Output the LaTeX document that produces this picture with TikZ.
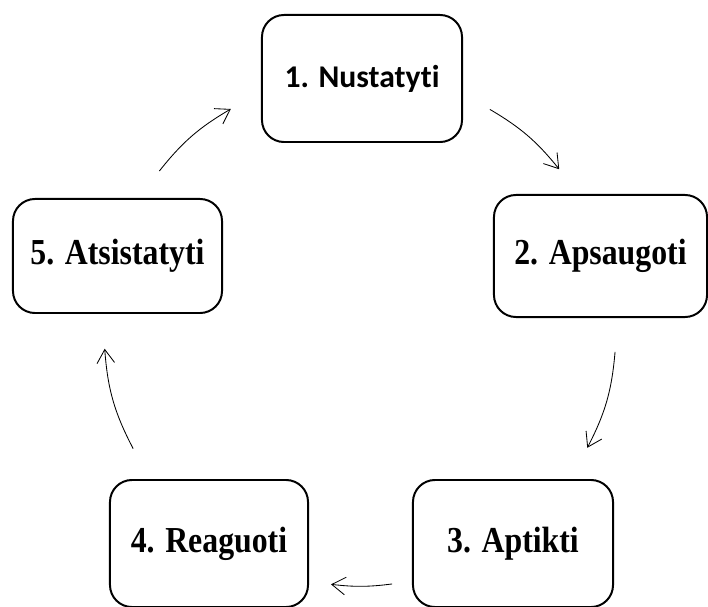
\documentclass[tikz,border=0pt]{standalone}
\usepackage{fontspec}
\setmainfont{Liberation Serif}[FakeStretch=0.87]
\newfontfamily\calfont{Carlito}[Ligatures={NoCommon}]
\usetikzlibrary{arrows.meta,calc}
\tikzset{
  stage/.style={rectangle, rounded corners=0.55cm, draw=black, fill=white, line width=1.4pt,
    inner sep=0pt, align=center, font=\fontsize{26}{30}\selectfont\bfseries},
  arr/.style={-{Straight Barb[length=3.4mm,width=4.4mm]}, line width=0.6pt, draw=black},
}

\begin{document}
\begin{tikzpicture}[x=0.025cm,y=0.025cm]
  \useasboundingbox (0,0) rectangle (708,606);
  \node[stage,minimum width=5cm,minimum height=3.175cm,font=\calfont\fontsize{22.5}{27}\selectfont\bfseries] (detect) at (362,527.5) {1. Nustatyti};
  \node[stage,minimum width=5.325cm,minimum height=3.05cm] (protect) at (600.5,350) {2. Apsaugoti};
  \node[stage,minimum width=5cm,minimum height=3.175cm] (find) at (513,62.5) {3. Aptikti};
  \node[stage,minimum width=4.95cm,minimum height=3.175cm] (react) at (209,62.5) {4. Reaguoti};
  \node[stage,minimum width=5.225cm,minimum height=2.85cm] (recover) at (117.5,350) {5. Atsistatyti};
  % arrows run along one circle round the middle of the cycle
  \coordinate (hub) at (360,276);
  \foreach \i/\s/\e in {1/59.5/38.9, 2/-4.9/-27.4, 3/-82.8/-96.5, 4/-152.4/-175.8, 5/141.6/120.3}{
    \pgfmathsetmacro\b{(\s-\e)/2}
    \coordinate (out\i) at ($(hub)+(\s:256)$);
    \coordinate (in\i) at ($(hub)+(\e:256)$);
    \draw[arr] (out\i) to[bend left=\b] (in\i);
  }
\end{tikzpicture}
\end{document}
